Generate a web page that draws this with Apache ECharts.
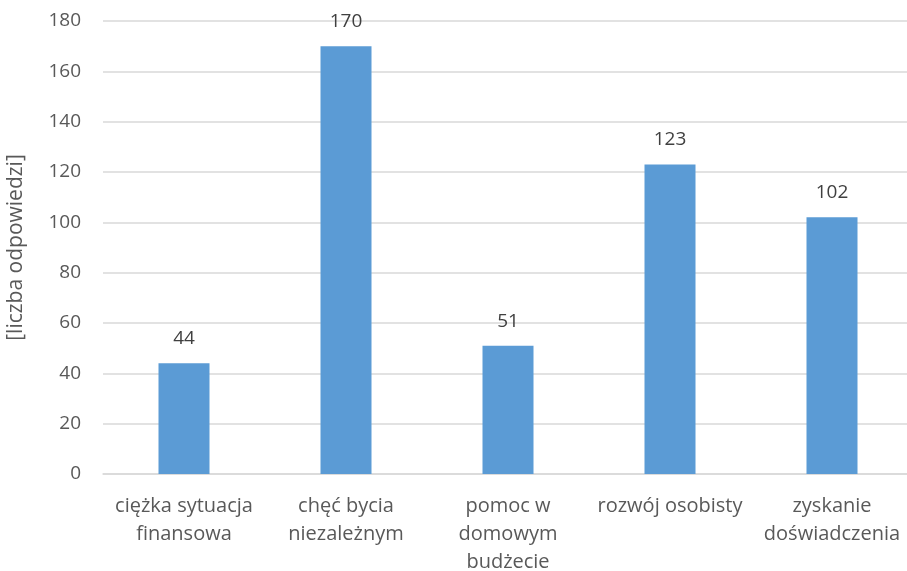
<!DOCTYPE html>
<html>
<head>
<meta charset="utf-8">
<script src="https://cdn.jsdelivr.net/npm/echarts@6/dist/echarts.min.js"></script>
<style>html,body{margin:0;padding:0;background:#fff;}#c{width:907px;height:571px;}</style>
</head>
<body>
<div id="c"></div>
<script>
const categories = ["ciężka sytuacja\nfinansowa", "chęć bycia\nniezależnym", "pomoc w\ndomowym\nbudżecie", "rozwój osobisty", "zyskanie\ndoświadczenia"];
const values = [44, 170, 51, 123, 102];
const yAxisName = "[liczba odpowiedzi]";

const chart = echarts.init(document.getElementById('c'));
const font = '"Open Sans", sans-serif';
chart.setOption({
  animation: false,
  grid: { left: 103, width: 810, top: 21, bottom: 97, outerBoundsMode: 'none', containLabel: false },
  xAxis: {
    type: 'category',
    data: categories,
    axisLine: { lineStyle: { color: '#D9D9D9', width: 1.5 } },
    axisTick: { show: false },
    axisLabel: { color: '#595959', fontSize: 20, fontFamily: font, lineHeight: 28, margin: 18, interval: 0 }
  },
  yAxis: {
    type: 'value',
    min: 0, max: 180, interval: 20,
    name: yAxisName,
    nameLocation: 'middle',
    nameGap: 76,
    nameTextStyle: { color: '#595959', fontSize: 21, fontFamily: font },
    axisLine: { show: false },
    axisTick: { show: false },
    splitLine: { lineStyle: { color: '#D9D9D9', width: 1.5 } },
    axisLabel: { color: '#595959', fontSize: 19, fontFamily: font, margin: 22 }
  },
  series: [{
    type: 'bar',
    data: values,
    barWidth: 51,
    itemStyle: { color: '#5B9BD5' },
    label: { show: true, position: 'top', distance: 15, color: '#404040', fontSize: 19, fontFamily: font }
  }]
});
</script>
</body>
</html>
